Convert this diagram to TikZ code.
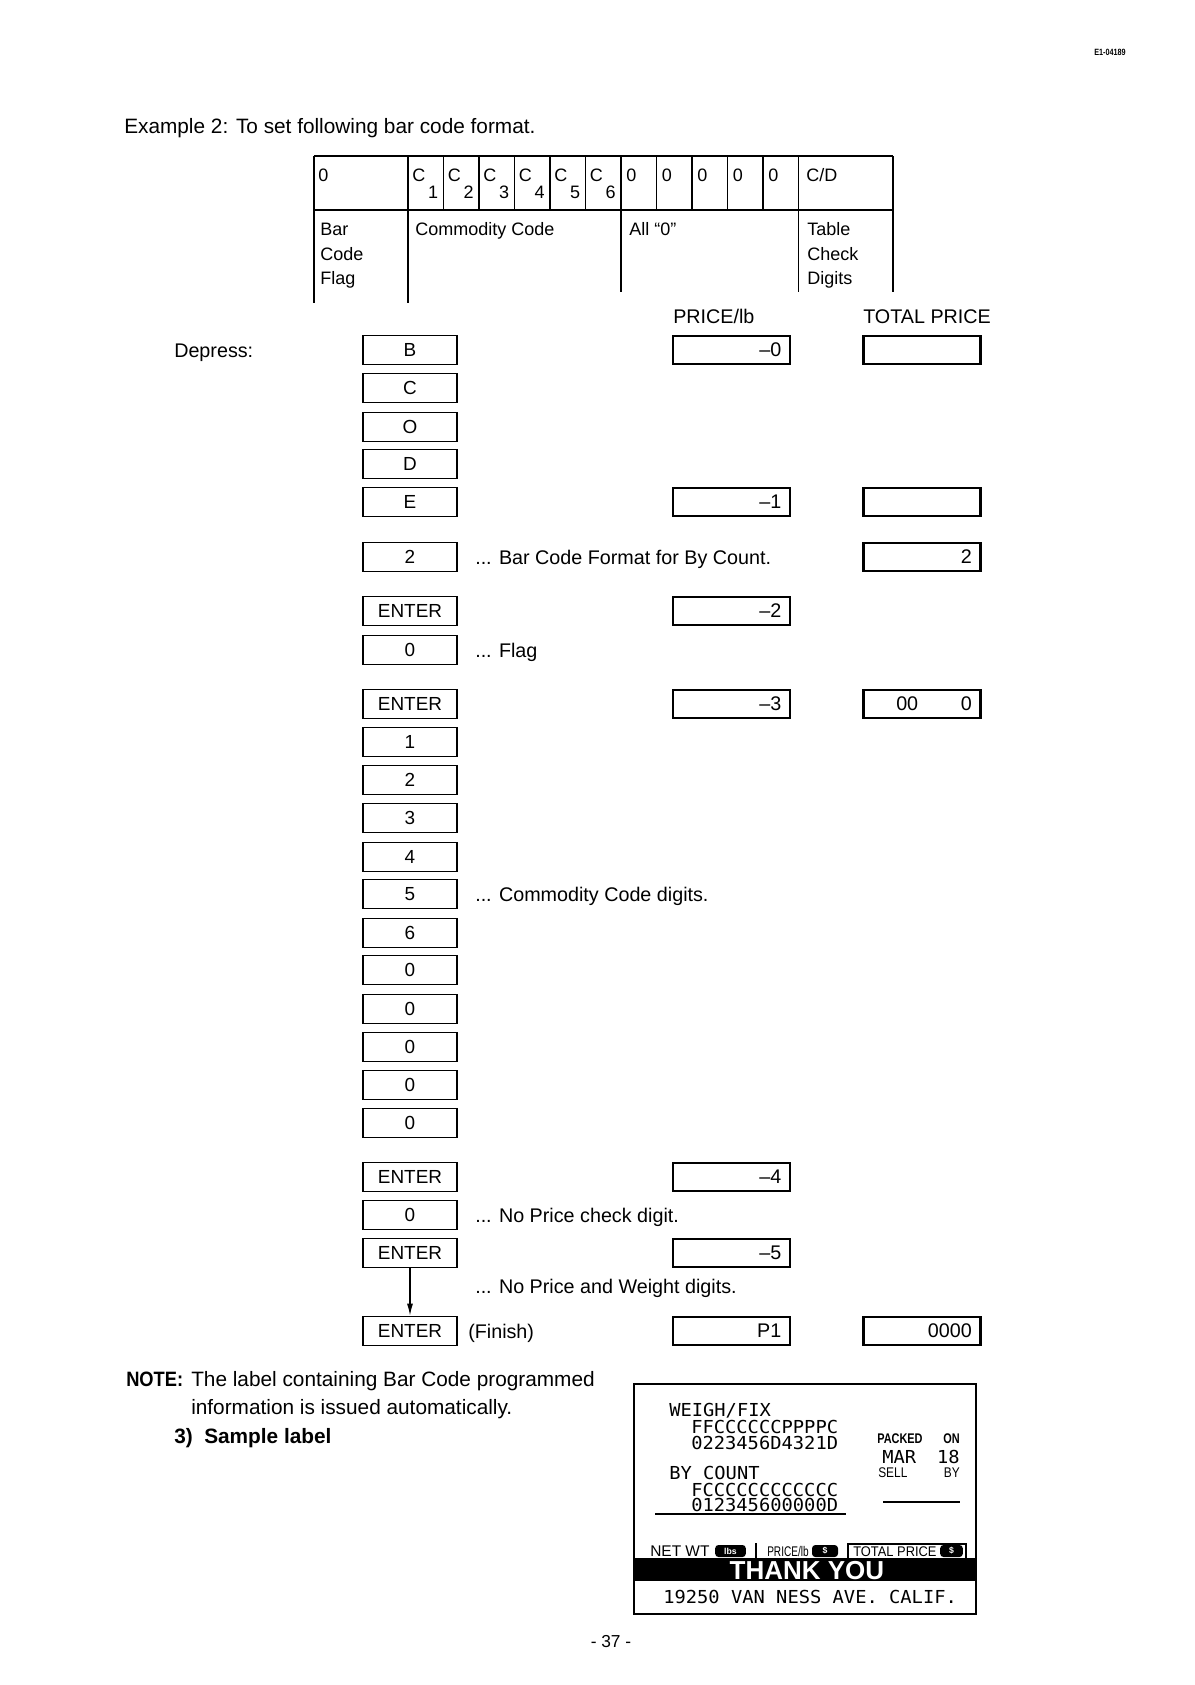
\documentclass[tikz,border=0pt]{standalone}
\usepackage{fontspec}
\usepackage{graphicx}
\setmainfont{Liberation Sans}
\newfontfamily\dotfont[FakeStretch=1.05]{DejaVu Sans Mono}
\usetikzlibrary{arrows.meta}
\newcommand\fsz[1]{\fontsize{#1}{#1}\selectfont}
\begin{document}
\begin{tikzpicture}[x=0.75pt,y=-0.75pt,
  txt/.style={inner sep=0pt, font=\fsz{14.8pt}},
  big/.style={inner sep=0pt, font=\fsz{15.6pt}},
  bigb/.style={inner sep=0pt, font=\bfseries\fsz{15.6pt}},
  tbl/.style={inner sep=0pt, font=\fsz{13.5pt}},
  tline/.style={line width=1.1pt},
  keybox/.style={draw, line width=1.1pt, minimum width=70.5pt, minimum height=22pt, inner sep=0pt, font=\fsz{14.2pt}},
  dispbox/.style={draw, line width=1.7pt, minimum height=21.5pt, text width=74.75pt, align=right, inner xsep=6.5pt, inner ysep=0pt, font=\fsz{14.8pt}},
  dot/.style={inner sep=0pt, font=\dotfont\fsz{13.4pt}},
  lbl/.style={inner sep=0pt, font=\fsz{10.5pt}},
  lblb/.style={inner sep=0pt, font=\bfseries\fsz{10.5pt}},
  inv/.style={fill=black, rounded corners=2.5pt, inner sep=0pt, text=white, font=\bfseries\fsz{6.5pt}, minimum height=9pt},
]
\useasboundingbox (0,0) rectangle (1195,1685);

% header
\node[inner sep=0pt, font=\bfseries\fsz{6.8pt}] (hdr) at (1110,52) {\scalebox{0.8}[1]{E1-04189}};
\node[big, anchor=base west] (ex) at (124,133) {Example 2: To set following bar code format.};

% table
\draw[tline] (314,156) -- (893,156);
\draw[tline] (314,210) -- (893,210);
\foreach \x in {314,408,443.5,479,514.5,550,585.5,621,656.5,692,727.5,763,798.5,893}
  \draw[tline] (\x,156) -- (\x,210);
\draw[tline] (314,210) -- (314,303);
\draw[tline] (408,210) -- (408,303);
\draw[tline] (621,210) -- (621,292);
\draw[tline] (798.5,210) -- (798.5,292);
\draw[tline] (893,210) -- (893,292);

\node[tbl, anchor=base west] (f0) at (318,181.4) {0};
\foreach \i in {1,...,6} {
  \pgfmathsetmacro\cl{408+(\i-1)*35.5}
  \node[tbl, anchor=base west] (c\i) at (\cl+4,181.4) {C};
  \node[tbl, anchor=base east] (s\i) at (\cl+30.5,198) {\i};
}
\foreach \j in {0,...,4} {
  \pgfmathsetmacro\zl{621+\j*35.5}
  \node[tbl, anchor=base west] (z\j) at (\zl+5,181.4) {0};
}
\node[tbl, anchor=base west] (cd) at (806,181.4) {C/D};

\node[tbl, anchor=base west] (r1) at (320,235.4) {Bar};
\node[tbl, anchor=base west] (r2) at (320,260.4) {Code};
\node[tbl, anchor=base west] (r3) at (320,284.4) {Flag};
\node[tbl, anchor=base west] (cc) at (415,235.4) {Commodity Code};
\node[tbl, anchor=base west] (al) at (629,235.4) {All “0”};
\node[tbl, anchor=base west] (q1) at (807,235.4) {Table};
\node[tbl, anchor=base west] (q2) at (807,260.4) {Check};
\node[tbl, anchor=base west] (q3) at (807,284.4) {Digits};

% column headers
\node[txt, anchor=base west] (hP) at (673,323) {PRICE/lb};
\node[txt, anchor=base west] (hT) at (863,323) {TOTAL PRICE};
\node[txt, anchor=base west] (dep) at (174,357) {Depress:};

% keys
\foreach \y/\t [count=\i] in {350/B, 388/C, 427/O, 464/D, 502/E, 557/2, 611/ENTER, 650/0, 704/ENTER, 742/1, 780/2, 818/3, 857/4, 894/5, 933/6, 970/0, 1009/0, 1047/0, 1085/0, 1123/0, 1177/ENTER, 1215/0, 1253/ENTER, 1331/ENTER}
  \node[keybox] (k\i) at (410,\y) {\t};
\draw[line width=0.9pt, -{Latex[length=9pt,width=4.5pt]}] (k23.south) -- (k24.north);

% price/lb displays
\foreach \y/\t [count=\i] in {350/–0, 502/–1, 611/–2, 704/–3, 1177/–4, 1253/–5, 1331/P1}
  \node[dispbox] (p\i) at (731.5,\y) {\t};
% total price displays
\node[dispbox] (t1) at (922,350) {};
\node[dispbox] (t2) at (922,502) {};
\node[dispbox] (t3) at (922,557) {2};
\node[dispbox] (t4) at (922,704) {00\hspace{32pt}0};
\node[dispbox] (t5) at (922,1331) {0000};

% annotations
\node[txt, anchor=base west] (a1) at (475,564) {... Bar Code Format for By Count.};
\node[txt, anchor=base west] (a2) at (475,657) {... Flag};
\node[txt, anchor=base west] (a3) at (475,901) {... Commodity Code digits.};
\node[txt, anchor=base west] (a4) at (475,1222) {... No Price check digit.};
\node[txt, anchor=base west] (a5) at (475,1293) {... No Price and Weight digits.};
\node[txt, anchor=base west] (a6) at (468,1338) {(Finish)};

% note
\node[bigb, anchor=base west] (nt) at (126,1386.4) {\scalebox{0.88}[1]{NOTE:}};
\node[big, anchor=base west] (n1) at (191,1386.4) {The label containing Bar Code programmed};
\node[big, anchor=base west] (n2) at (191,1414.4) {information is issued automatically.};
\node[bigb, anchor=base west] (n3) at (174,1443.4) {3)\ \ Sample label};

% sample label
\draw[line width=1.1pt] (634,1384) rectangle (976,1614);
\node[dot, anchor=base west] (w1) at (669,1416.5) {WEIGH/FIX};
\node[dot, anchor=base west] (w2) at (691,1433) {FFCCCCCCPPPPC};
\node[dot, anchor=base west] (w3) at (691,1449.5) {0223456D4321D};
\node[dot, anchor=base west] (b1) at (669,1479.5) {BY COUNT};
\node[dot, anchor=base west] (b2) at (691,1496) {FCCCCCCCCCCCC};
\node[dot, anchor=base west] (b3) at (691,1511.5) {012345600000D};
\draw[line width=1.6pt] (655,1514) -- (846,1514);

\node[lblb, anchor=base west] (pk) at (877,1443) {\scalebox{0.78}[1]{PACKED}};
\node[lblb, anchor=base east] (on) at (960,1443) {\scalebox{0.78}[1]{ON}};
\node[dot, anchor=base west] (mar) at (882,1463.5) {MAR};
\node[dot, anchor=base east] (d18) at (960,1463.5) {18};
\node[lbl, anchor=base west] (sell) at (878,1477) {\scalebox{0.85}[1]{SELL}};
\node[lbl, anchor=base east] (sby) at (960,1477) {\scalebox{0.85}[1]{BY}};
\draw[line width=1.8pt] (883,1502) -- (960,1502);

\node[inner sep=0pt, anchor=base west, font=\fsz{11.6pt}] (nw) at (650,1556) {NET WT};
\node[inv, minimum width=23pt] (lbs) at (730.5,1551) {lbs};
\draw[line width=1.5pt] (756,1543) -- (756,1558);
\node[lbl, anchor=base west] (pl) at (767,1556) {\scalebox{0.72}[1]{PRICE/lb}};
\node[inv, minimum width=19.5pt] (dl1) at (825,1551) {\$};
\draw[line width=1.1pt] (848,1558) -- (848,1544) -- (966,1544) -- (966,1558);
\node[lbl, anchor=base west] (tp) at (853,1556) {\scalebox{0.92}[1]{TOTAL PRICE}};
\node[inv, minimum width=17pt] (dl2) at (951.5,1551) {\$};

\fill (634,1558) rectangle (976,1581);
\node[inner sep=0pt, anchor=base, text=white, font=\bfseries\fsz{19.5pt}] (ty) at (807,1579) {THANK YOU};
\node[dot, anchor=base west] (addr) at (663,1603.5) {19250 VAN NESS AVE. CALIF.};

% page number
\node[inner sep=0pt, anchor=base, font=\fsz{13pt}] (pg) at (611,1647) {-\ 37\ -};
\end{tikzpicture}
\end{document}
